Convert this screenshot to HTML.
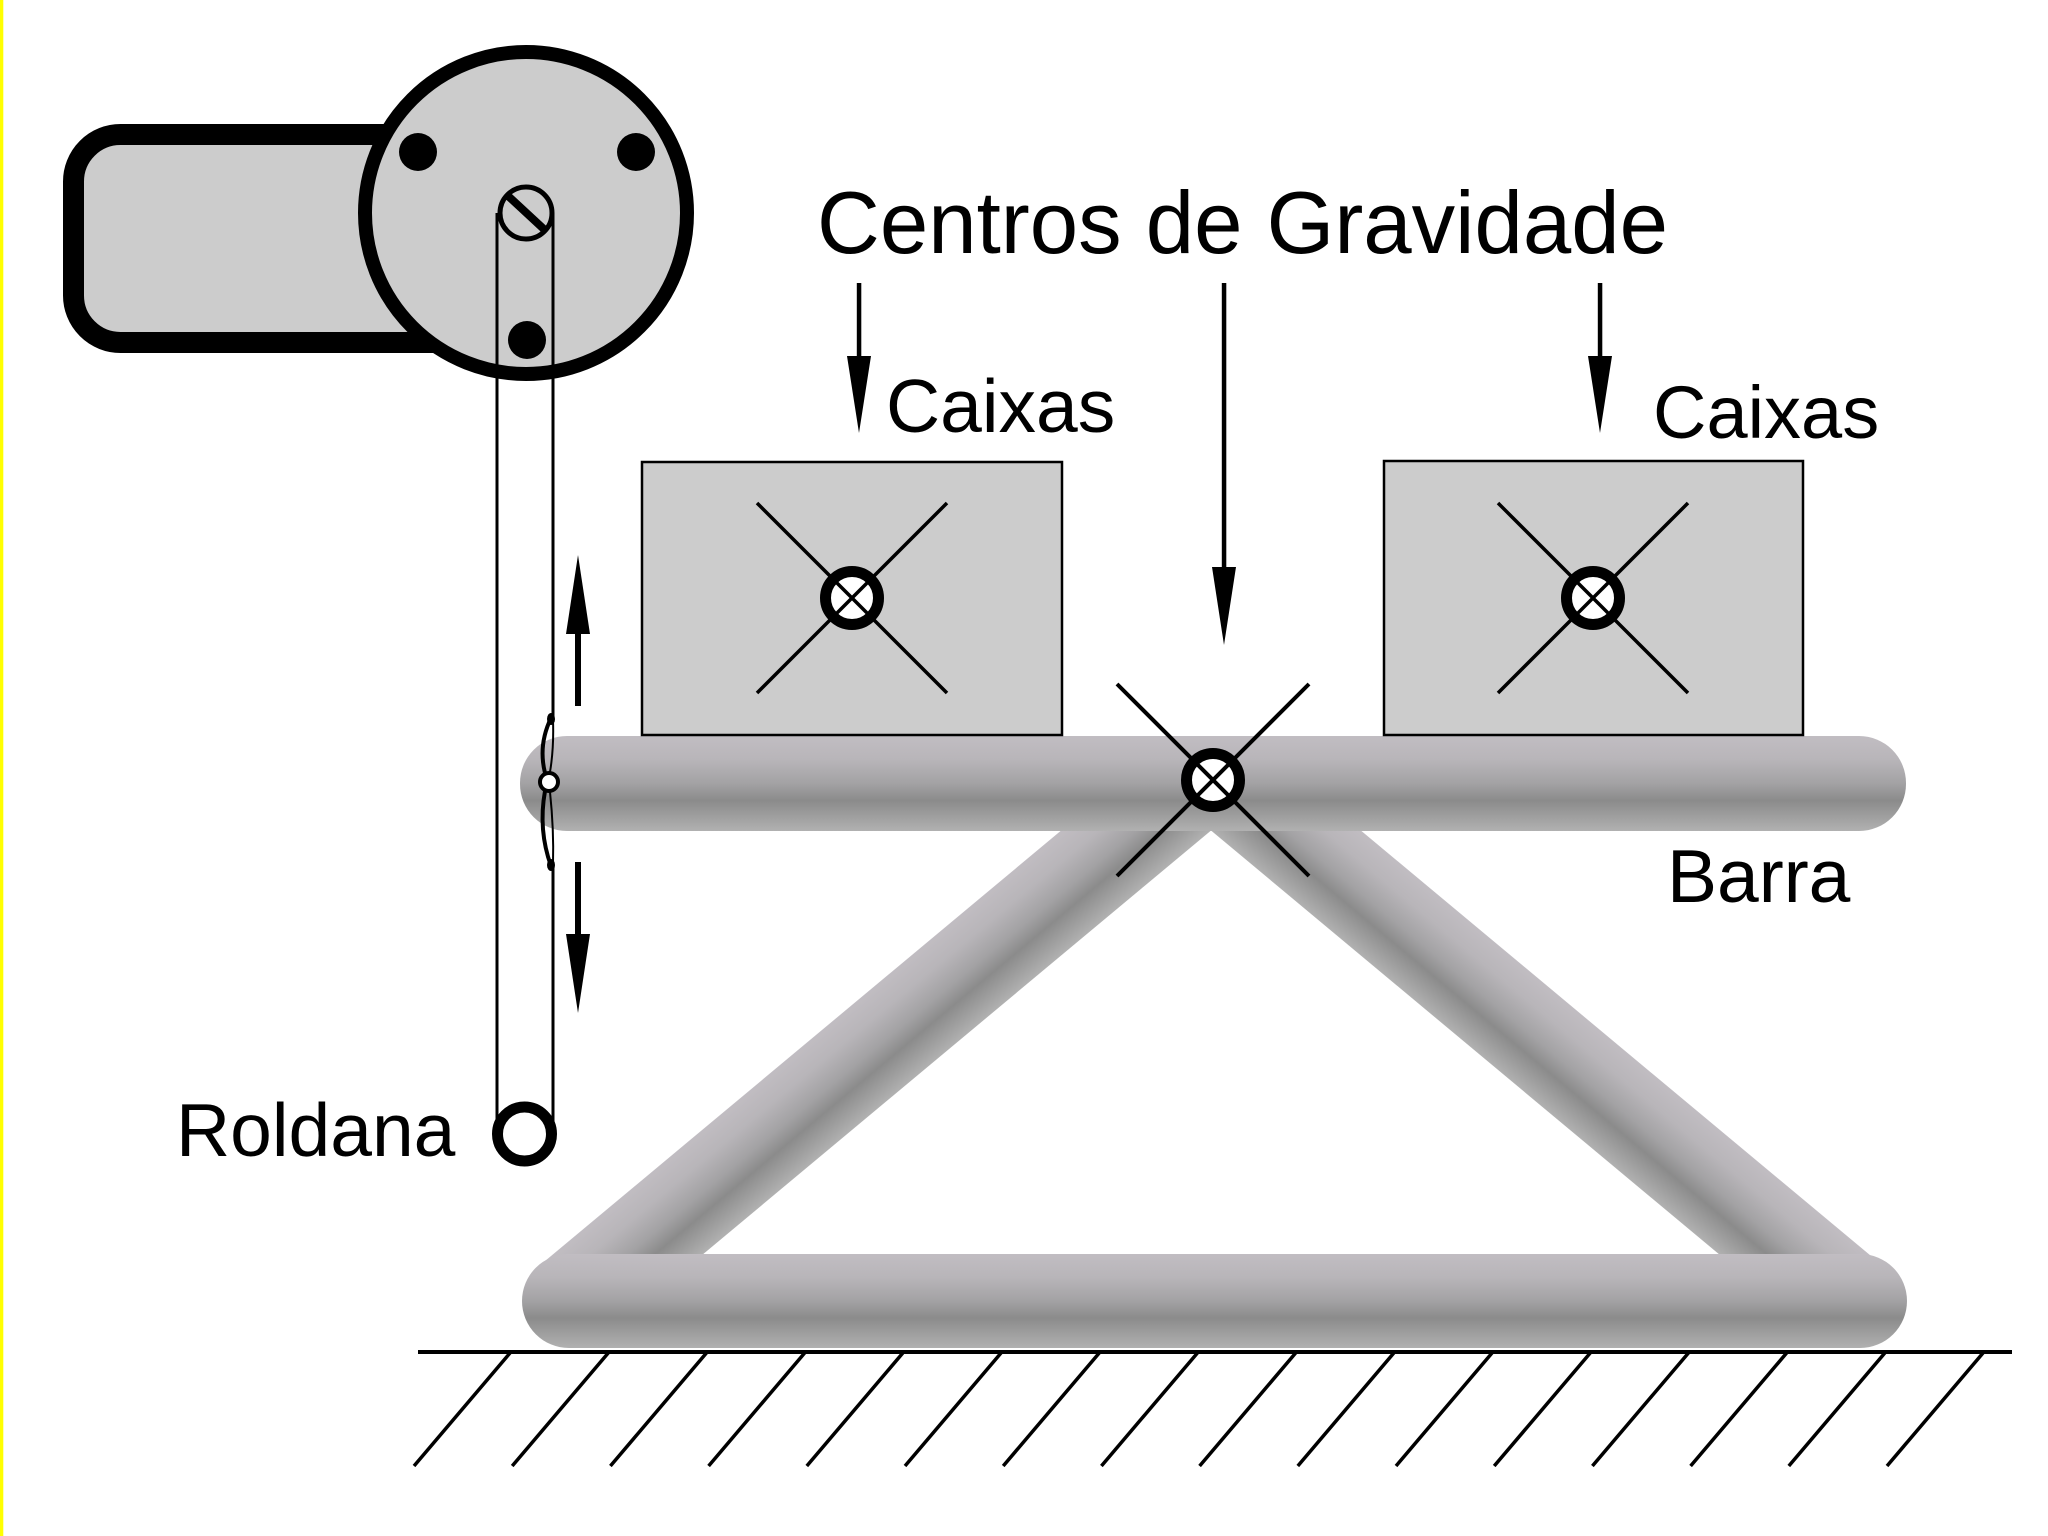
<!DOCTYPE html>
<html>
<head>
<meta charset="utf-8">
<style>
html,body{margin:0;padding:0;background:#fff;}
svg{display:block;}
text{font-family:"Liberation Sans",Arial,sans-serif;fill:#000;}
</style>
</head>
<body>
<svg width="2048" height="1536" viewBox="0 0 2048 1536" xmlns="http://www.w3.org/2000/svg">
<defs>
<linearGradient id="g" x1="0" y1="0" x2="0" y2="1">
 <stop offset="0" stop-color="#c1bdc2"/>
 <stop offset="0.25" stop-color="#b8b5b9"/>
 <stop offset="0.5" stop-color="#a3a2a4"/>
 <stop offset="0.68" stop-color="#8b8b8b"/>
 <stop offset="0.85" stop-color="#9f9f9f"/>
 <stop offset="1" stop-color="#b1b1b1"/>
</linearGradient>
<clipPath id="screwclip"><circle cx="526" cy="213" r="26"/></clipPath>
<clipPath id="diagclip"><rect x="0" y="770" width="2048" height="700"/></clipPath>
</defs>
<rect x="0" y="0" width="2048" height="1536" fill="#fff"/>
<rect x="0" y="0" width="3.3" height="1536" fill="#ffff00"/>

<!-- Motor -->
<rect x="73.5" y="134.5" width="430" height="208" rx="47" ry="47" fill="#cccccc" stroke="#000" stroke-width="21"/>
<circle cx="526" cy="213" r="161" fill="#cccccc" stroke="#000" stroke-width="14"/>
<circle cx="418" cy="152" r="19" fill="#000"/>
<circle cx="636" cy="152" r="19" fill="#000"/>
<circle cx="527" cy="340" r="19" fill="#000"/>
<circle cx="526" cy="213" r="26" fill="#cccccc" stroke="#000" stroke-width="5"/>
<line x1="506" y1="194" x2="547" y2="232" stroke="#000" stroke-width="8" clip-path="url(#screwclip)"/>

<!-- Diagonals (behind bars) -->
<g clip-path="url(#diagclip)">
<g transform="translate(572,1301) rotate(-39.83)"><rect x="0" y="-48" width="832" height="96" fill="url(#g)"/></g>
<g transform="translate(1211,768) rotate(39.83)"><rect x="0" y="-48" width="832" height="96" fill="url(#g)"/></g>
</g>

<!-- Bars -->
<rect x="520" y="736" width="1386" height="95" rx="47" ry="47" fill="url(#g)"/>
<rect x="522" y="1254" width="1385" height="94" rx="47" ry="47" fill="url(#g)"/>

<!-- Ground -->
<line x1="418" y1="1352" x2="2012" y2="1352" stroke="#000" stroke-width="4"/>
<g stroke="#000" stroke-width="3.5">
<line x1="510" y1="1353" x2="414" y2="1466"/>
<line x1="608.2" y1="1353" x2="512.2" y2="1466"/>
<line x1="706.4" y1="1353" x2="610.4" y2="1466"/>
<line x1="804.6" y1="1353" x2="708.6" y2="1466"/>
<line x1="902.8" y1="1353" x2="806.8" y2="1466"/>
<line x1="1001" y1="1353" x2="905" y2="1466"/>
<line x1="1099.2" y1="1353" x2="1003.2" y2="1466"/>
<line x1="1197.4" y1="1353" x2="1101.4" y2="1466"/>
<line x1="1295.6" y1="1353" x2="1199.6" y2="1466"/>
<line x1="1393.8" y1="1353" x2="1297.8" y2="1466"/>
<line x1="1492" y1="1353" x2="1396" y2="1466"/>
<line x1="1590.2" y1="1353" x2="1494.2" y2="1466"/>
<line x1="1688.4" y1="1353" x2="1592.4" y2="1466"/>
<line x1="1786.6" y1="1353" x2="1690.6" y2="1466"/>
<line x1="1884.8" y1="1353" x2="1788.8" y2="1466"/>
<line x1="1983" y1="1353" x2="1887" y2="1466"/>
</g>

<!-- Boxes -->
<rect x="642" y="462" width="420" height="273" fill="#cccccc" stroke="#000" stroke-width="2.5"/>
<rect x="1384" y="461" width="419" height="274" fill="#cccccc" stroke="#000" stroke-width="2.5"/>

<!-- Centers of gravity markers -->
<g stroke="#000">
<circle cx="852" cy="598" r="26.5" fill="#fff" stroke-width="11"/>
<line x1="757" y1="503" x2="947" y2="693" stroke-width="3.5"/>
<line x1="757" y1="693" x2="947" y2="503" stroke-width="3.5"/>
<circle cx="1593" cy="598" r="26.5" fill="#fff" stroke-width="11"/>
<line x1="1498" y1="503" x2="1688" y2="693" stroke-width="3.5"/>
<line x1="1498" y1="693" x2="1688" y2="503" stroke-width="3.5"/>
<circle cx="1213" cy="780" r="26.5" fill="#fff" stroke-width="11"/>
<line x1="1117" y1="684" x2="1309" y2="876" stroke-width="4"/>
<line x1="1117" y1="876" x2="1309" y2="684" stroke-width="4"/>
</g>

<!-- Belt -->
<g stroke="#000" fill="none">
<line x1="497" y1="213" x2="497" y2="1134" stroke-width="3"/>
<line x1="553" y1="213" x2="553" y2="718" stroke-width="3"/>
<line x1="553" y1="866" x2="553" y2="1134" stroke-width="3"/>
<path d="M551,718 Q538,745 545,773" stroke-width="4"/>
<path d="M553,720 Q554,748 550,772" stroke-width="2"/>
<path d="M545,791 Q538,830 551,866" stroke-width="4"/>
<path d="M550,792 Q554,830 553,864" stroke-width="2"/>
</g>
<ellipse cx="551" cy="719" rx="4" ry="6" fill="#000"/>
<ellipse cx="551" cy="865" rx="4" ry="6" fill="#000"/>
<circle cx="549" cy="782" r="9" fill="#fff" stroke="#000" stroke-width="4"/>

<!-- Pulley -->
<circle cx="524.5" cy="1134" r="27" fill="#fff" stroke="#000" stroke-width="11"/>

<!-- Up/down arrows -->
<rect x="575" y="632" width="6" height="74" fill="#000"/>
<polygon points="578,555 566,634 590,634" fill="#000"/>
<rect x="575" y="862" width="6" height="74" fill="#000"/>
<polygon points="578,1013 566,934 590,934" fill="#000"/>

<!-- Top arrows -->
<rect x="856.8" y="283" width="4.5" height="75" fill="#000"/>
<polygon points="859,433 847,356 871,356" fill="#000"/>
<rect x="1221.8" y="283" width="4.5" height="286" fill="#000"/>
<polygon points="1224,645 1212,567 1236,567" fill="#000"/>
<rect x="1597.8" y="283" width="4.5" height="75" fill="#000"/>
<polygon points="1600,433 1588,356 1612,356" fill="#000"/>

<!-- Text -->
<text x="817" y="253" font-size="88" textLength="851" lengthAdjust="spacingAndGlyphs">Centros de Gravidade</text>
<text x="886" y="432" font-size="75">Caixas</text>
<text x="1653" y="438" font-size="74">Caixas</text>
<text x="176" y="1156" font-size="75">Roldana</text>
<text x="1667" y="902" font-size="75">Barra</text>
</svg>
</body>
</html>
